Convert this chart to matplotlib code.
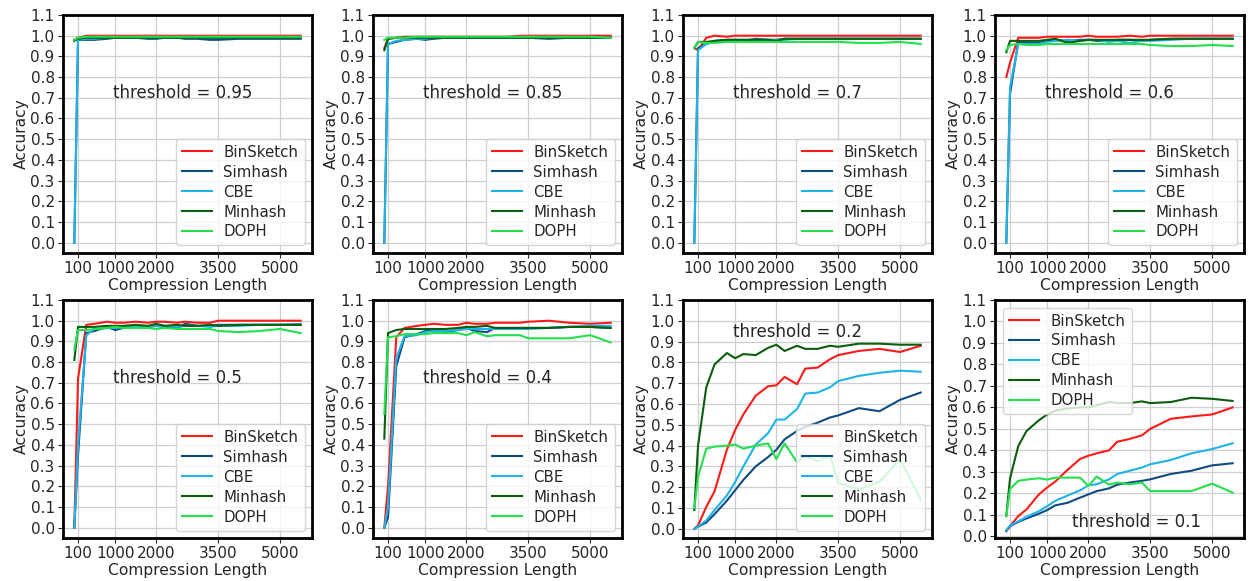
import matplotlib
matplotlib.use("Agg")
import matplotlib.pyplot as plt

# ---------------- data ----------------
lengths = [10, 100, 300, 500, 800, 1000, 1200, 1500, 1800, 2000,
           2200, 2500, 2700, 3000, 3300, 3500, 4000, 4500, 5000, 5500]
xtick_values = [100, 1000, 2000, 3500, 5000]
ytick_values = [0.0, 0.1, 0.2, 0.3, 0.4, 0.5, 0.6, 0.7, 0.8, 0.9, 1.0, 1.1]
methods = ["BinSketch", "Simhash", "CBE", "Minhash", "DOPH"]
thresholds = ["0.95", "0.85", "0.7", "0.6", "0.5", "0.4", "0.2", "0.1"]

t095_binsketch = [0.98, 0.99, 1.0, 1.0, 1.0, 1.0, 1.0, 1.0, 1.0, 1.0, 1.0, 1.0, 1.0, 1.0, 1.0, 1.0, 1.0, 1.0, 1.0, 1.0]
t095_simhash = [0.0, 0.98, 0.98, 0.98, 0.985, 0.99, 0.99, 0.99, 0.985, 0.985, 0.99, 0.99, 0.985, 0.985, 0.98, 0.98, 0.985, 0.985, 0.985, 0.985]
t095_cbe = [0.0, 0.98, 0.985, 0.985, 0.99, 0.99, 0.99, 0.99, 0.99, 0.99, 0.99, 0.99, 0.99, 0.99, 0.99, 0.99, 0.99, 0.99, 0.99, 0.99]
t095_minhash = [0.975, 0.985, 0.99, 0.99, 0.99, 0.99, 0.99, 0.99, 0.99, 0.99, 0.99, 0.99, 0.99, 0.99, 0.99, 0.99, 0.99, 0.99, 0.99, 0.99]
t095_doph = [0.98, 0.99, 0.995, 0.995, 0.995, 0.995, 0.995, 0.995, 0.995, 0.995, 0.995, 0.995, 0.995, 0.995, 0.995, 0.995, 0.995, 0.995, 0.995, 0.995]

t085_binsketch = [0.94, 0.985, 0.99, 0.995, 0.995, 0.995, 0.995, 0.995, 0.995, 0.995, 0.995, 0.995, 0.995, 0.995, 1.0, 1.0, 1.0, 1.0, 1.0, 1.0]
t085_simhash = [0.0, 0.96, 0.97, 0.98, 0.985, 0.98, 0.985, 0.99, 0.99, 0.99, 0.99, 0.99, 0.99, 0.99, 0.99, 0.99, 0.985, 0.99, 0.99, 0.99]
t085_cbe = [0.0, 0.96, 0.975, 0.98, 0.985, 0.985, 0.99, 0.99, 0.99, 0.99, 0.99, 0.99, 0.99, 0.99, 0.99, 0.99, 0.99, 0.99, 0.99, 0.99]
t085_minhash = [0.93, 0.985, 0.99, 0.99, 0.99, 0.99, 0.99, 0.99, 0.99, 0.99, 0.99, 0.99, 0.99, 0.99, 0.99, 0.99, 0.99, 0.99, 0.99, 0.99]
t085_doph = [0.98, 0.99, 0.99, 0.99, 0.995, 0.995, 0.995, 0.995, 0.995, 0.995, 0.995, 0.995, 0.995, 0.995, 0.995, 0.995, 0.995, 0.995, 0.995, 0.99]

t07_binsketch = [0.94, 0.93, 0.99, 1.0, 0.995, 1.0, 1.0, 1.0, 1.0, 1.0, 1.0, 1.0, 1.0, 1.0, 1.0, 1.0, 1.0, 1.0, 1.0, 1.0]
t07_simhash = [0.0, 0.94, 0.96, 0.975, 0.98, 0.98, 0.975, 0.985, 0.98, 0.98, 0.985, 0.985, 0.985, 0.985, 0.985, 0.985, 0.985, 0.985, 0.985, 0.985]
t07_cbe = [0.0, 0.93, 0.96, 0.97, 0.975, 0.98, 0.98, 0.98, 0.98, 0.98, 0.98, 0.985, 0.985, 0.985, 0.985, 0.985, 0.985, 0.985, 0.985, 0.985]
t07_minhash = [0.94, 0.97, 0.97, 0.975, 0.98, 0.98, 0.98, 0.98, 0.98, 0.975, 0.985, 0.985, 0.985, 0.985, 0.985, 0.985, 0.985, 0.985, 0.985, 0.985]
t07_doph = [0.94, 0.97, 0.965, 0.965, 0.97, 0.97, 0.97, 0.97, 0.97, 0.97, 0.97, 0.97, 0.97, 0.97, 0.97, 0.97, 0.965, 0.965, 0.97, 0.96]

t06_binsketch = [0.80, 0.87, 0.99, 0.99, 0.99, 0.995, 0.995, 0.995, 0.995, 1.0, 0.995, 0.995, 0.995, 1.0, 0.995, 1.0, 1.0, 1.0, 1.0, 1.0]
t06_simhash = [0.0, 0.72, 0.97, 0.965, 0.965, 0.975, 0.98, 0.975, 0.98, 0.98, 0.975, 0.975, 0.98, 0.98, 0.975, 0.98, 0.985, 0.985, 0.985, 0.985]
t06_cbe = [0.0, 0.75, 0.96, 0.96, 0.96, 0.97, 0.975, 0.98, 0.975, 0.98, 0.98, 0.97, 0.975, 0.965, 0.975, 0.975, 0.98, 0.985, 0.985, 0.985]
t06_minhash = [0.92, 0.975, 0.975, 0.975, 0.975, 0.98, 0.985, 0.965, 0.975, 0.98, 0.98, 0.98, 0.98, 0.98, 0.98, 0.98, 0.985, 0.985, 0.985, 0.985]
t06_doph = [0.93, 0.955, 0.96, 0.955, 0.955, 0.96, 0.96, 0.96, 0.96, 0.96, 0.96, 0.96, 0.96, 0.96, 0.96, 0.955, 0.95, 0.95, 0.955, 0.95]

t05_binsketch = [0.0, 0.72, 0.98, 0.985, 0.995, 0.99, 0.99, 0.995, 0.99, 0.995, 0.995, 0.99, 0.995, 0.99, 0.99, 1.0, 1.0, 1.0, 1.0, 1.0]
t05_simhash = [0.0, 0.35, 0.94, 0.95, 0.97, 0.955, 0.965, 0.97, 0.97, 0.975, 0.97, 0.965, 0.985, 0.975, 0.975, 0.98, 0.98, 0.98, 0.98, 0.98]
t05_cbe = [0.0, 0.4, 0.93, 0.96, 0.965, 0.965, 0.97, 0.97, 0.975, 0.975, 0.975, 0.97, 0.975, 0.975, 0.97, 0.975, 0.975, 0.98, 0.98, 0.985]
t05_minhash = [0.81, 0.97, 0.97, 0.97, 0.975, 0.975, 0.975, 0.98, 0.975, 0.985, 0.975, 0.98, 0.975, 0.975, 0.98, 0.975, 0.98, 0.98, 0.98, 0.98]
t05_doph = [0.86, 0.955, 0.955, 0.96, 0.965, 0.97, 0.965, 0.965, 0.965, 0.96, 0.965, 0.96, 0.96, 0.96, 0.96, 0.95, 0.945, 0.95, 0.96, 0.94]

t04_binsketch = [0.0, 0.2, 0.92, 0.965, 0.975, 0.98, 0.985, 0.98, 0.98, 0.99, 0.985, 0.985, 0.99, 0.99, 0.99, 0.995, 1.0, 0.99, 0.985, 0.99]
t04_simhash = [0.0, 0.05, 0.78, 0.92, 0.935, 0.95, 0.955, 0.945, 0.955, 0.965, 0.95, 0.945, 0.965, 0.965, 0.965, 0.965, 0.965, 0.97, 0.97, 0.965]
t04_cbe = [0.0, 0.1, 0.82, 0.925, 0.93, 0.945, 0.95, 0.95, 0.955, 0.96, 0.96, 0.96, 0.96, 0.96, 0.96, 0.96, 0.965, 0.97, 0.975, 0.975]
t04_minhash = [0.43, 0.94, 0.955, 0.96, 0.96, 0.96, 0.96, 0.96, 0.965, 0.97, 0.97, 0.975, 0.965, 0.965, 0.965, 0.965, 0.965, 0.97, 0.97, 0.965]
t04_doph = [0.55, 0.92, 0.925, 0.935, 0.935, 0.935, 0.94, 0.94, 0.94, 0.93, 0.945, 0.925, 0.93, 0.93, 0.93, 0.915, 0.915, 0.915, 0.93, 0.895]

t02_binsketch = [0.0, 0.016, 0.105, 0.18, 0.38, 0.475, 0.55, 0.64, 0.685, 0.69, 0.73, 0.695, 0.77, 0.775, 0.815, 0.835, 0.855, 0.865, 0.85, 0.88]
t02_simhash = [0.0, 0.01, 0.03, 0.07, 0.135, 0.185, 0.235, 0.30, 0.345, 0.38, 0.43, 0.47, 0.49, 0.51, 0.535, 0.545, 0.58, 0.565, 0.62, 0.655]
t02_cbe = [0.0, 0.01, 0.04, 0.09, 0.16, 0.225, 0.30, 0.405, 0.46, 0.525, 0.525, 0.575, 0.65, 0.655, 0.68, 0.71, 0.735, 0.75, 0.76, 0.755]
t02_minhash = [0.09, 0.40, 0.68, 0.79, 0.845, 0.82, 0.84, 0.835, 0.87, 0.885, 0.855, 0.88, 0.865, 0.865, 0.88, 0.875, 0.89, 0.89, 0.885, 0.885]
t02_doph = [0.10, 0.25, 0.385, 0.395, 0.40, 0.405, 0.385, 0.40, 0.41, 0.335, 0.41, 0.32, 0.35, 0.325, 0.35, 0.22, 0.19, 0.225, 0.335, 0.14]

t01_binsketch = [0.023, 0.047, 0.094, 0.125, 0.195, 0.227, 0.255, 0.31, 0.36, 0.375, 0.386, 0.40, 0.44, 0.453, 0.47, 0.50, 0.547, 0.558, 0.567, 0.60]
t01_simhash = [0.027, 0.047, 0.067, 0.083, 0.105, 0.122, 0.144, 0.156, 0.18, 0.195, 0.21, 0.223, 0.24, 0.25, 0.258, 0.265, 0.29, 0.305, 0.33, 0.34]
t01_cbe = [0.027, 0.05, 0.07, 0.09, 0.117, 0.14, 0.165, 0.19, 0.214, 0.237, 0.242, 0.265, 0.29, 0.305, 0.32, 0.335, 0.355, 0.386, 0.406, 0.433]
t01_minhash = [0.094, 0.27, 0.42, 0.49, 0.54, 0.567, 0.585, 0.595, 0.60, 0.60, 0.61, 0.625, 0.62, 0.62, 0.628, 0.62, 0.625, 0.645, 0.64, 0.63]
t01_doph = [0.094, 0.22, 0.258, 0.264, 0.27, 0.264, 0.273, 0.273, 0.273, 0.234, 0.278, 0.24, 0.25, 0.242, 0.25, 0.21, 0.21, 0.21, 0.245, 0.203]

panels = [
    [t095_binsketch, t095_simhash, t095_cbe, t095_minhash, t095_doph],
    [t085_binsketch, t085_simhash, t085_cbe, t085_minhash, t085_doph],
    [t07_binsketch, t07_simhash, t07_cbe, t07_minhash, t07_doph],
    [t06_binsketch, t06_simhash, t06_cbe, t06_minhash, t06_doph],
    [t05_binsketch, t05_simhash, t05_cbe, t05_minhash, t05_doph],
    [t04_binsketch, t04_simhash, t04_cbe, t04_minhash, t04_doph],
    [t02_binsketch, t02_simhash, t02_cbe, t02_minhash, t02_doph],
    [t01_binsketch, t01_simhash, t01_cbe, t01_minhash, t01_doph],
]

# ---------------- style ----------------
colors = ["#ff1a1a", "#0f4c81", "#1fb4e8", "#0b5e0b", "#22e04e"]
text_pos = [(950, 0.7), (950, 0.7), (950, 0.7), (950, 0.7),
            (950, 0.7), (950, 0.7), (950, 0.92), (1600, 0.045)]
legend_loc = ["lower right"] * 7 + ["upper left"]

TICK_FS = 11.0
LAB_FS = 11.2
LEG_FS = 10.8
TXT_FS = 12.0
TXT_COLOR = "#262626"
plt.rcParams["font.family"] = ["DejaVu Sans"]

fig = plt.figure(figsize=(12.49, 5.81), dpi=100)
W, H = 1249, 581
col_left = [63, 373, 683, 995]
ax_w = 249
row_top = [15, 300]
ax_h = 238

for i in range(8):
    r, c = divmod(i, 4)
    ax = fig.add_axes([col_left[c] / W, 1 - (row_top[r] + ax_h) / H, ax_w / W, ax_h / H])
    for name, ys, col in zip(methods, panels[i], colors):
        ax.plot(lengths, ys, color=col, lw=1.5, label=name)
    ax.set_xticks(xtick_values)
    ax.set_yticks(ytick_values)
    ax.set_yticklabels([f"{v:.1f}" for v in ytick_values])
    ax.grid(True, color="#cfcfcf", lw=0.9)
    ax.set_axisbelow(True)
    for s in ax.spines.values():
        s.set_linewidth(2.0)
        s.set_color("black")
    ax.tick_params(labelsize=TICK_FS, length=3.5, width=0.8, colors=TXT_COLOR, pad=2.5)
    ax.set_xlabel("Compression Length", fontsize=LAB_FS, labelpad=1, color=TXT_COLOR)
    ax.set_ylabel("Accuracy", fontsize=LAB_FS, labelpad=1, color=TXT_COLOR)
    ax.text(text_pos[i][0], text_pos[i][1], "threshold = " + thresholds[i],
            fontsize=TXT_FS, color=TXT_COLOR)
    leg = ax.legend(loc=legend_loc[i], fontsize=LEG_FS, labelspacing=0.33,
                    handlelength=2.0, framealpha=0.8, borderpad=0.4)
    for t in leg.get_texts():
        t.set_color(TXT_COLOR)

fig.savefig("out.png", dpi=100)
